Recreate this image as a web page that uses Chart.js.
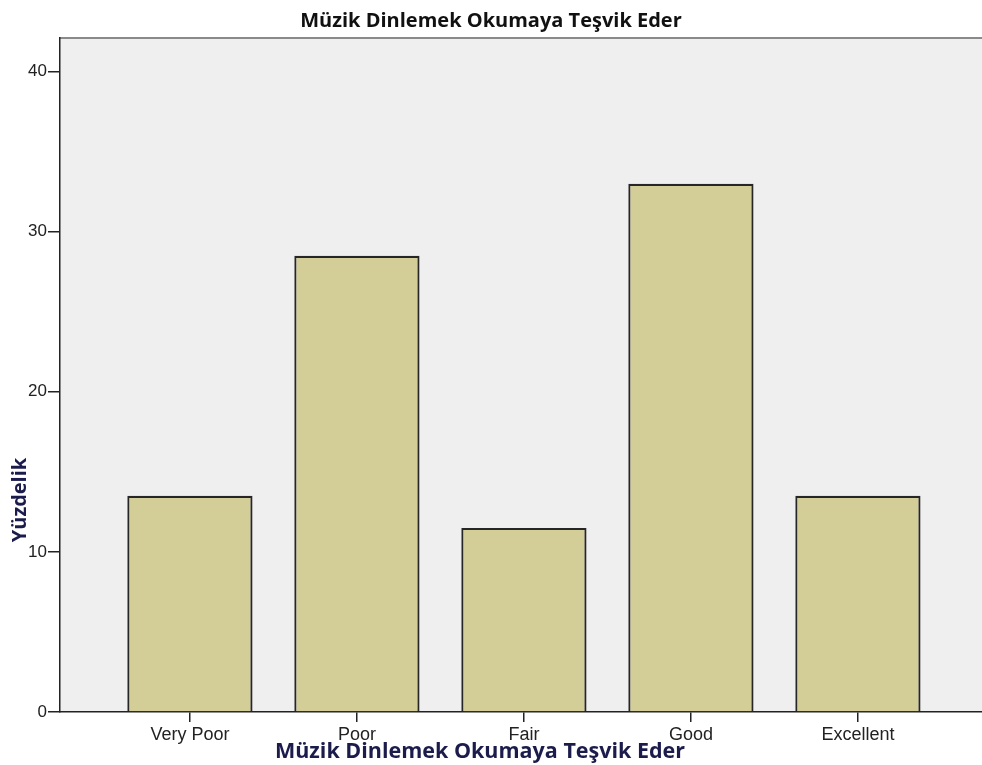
<!DOCTYPE html>
<html>
<head>
<meta charset="utf-8">
<script src="https://cdn.jsdelivr.net/npm/chart.js@4/dist/chart.umd.min.js"></script>
<style>
html,body{margin:0;padding:0;background:#fff;overflow:hidden;}
#wrap{width:982px;height:765px;position:relative;}
</style>
</head>
<body>
<div id="wrap"><canvas id="c" width="982" height="765"></canvas></div>
<script>
const chartTitle = "Müzik Dinlemek Okumaya Teşvik Eder";
const xAxisTitle = "Müzik Dinlemek Okumaya Teşvik Eder";
const yAxisTitle = "Yüzdelik";
const categories = ["Very Poor", "Poor", "Fair", "Good", "Excellent"];
const percentages = [13.5, 28.5, 11.5, 33.0, 13.5];
const yTicks = [0, 10, 20, 30, 40];

const points = categories.map((c, i) => ({x: i, y: percentages[i]}));

const bgPlugin = {
  id: 'bg',
  beforeDraw(chart) {
    const {ctx, chartArea: a} = chart;
    ctx.save();
    ctx.fillStyle = '#efefef';
    ctx.fillRect(a.left, a.top, a.right - a.left, a.bottom - a.top);
    ctx.strokeStyle = '#8a8a8a';
    ctx.lineWidth = 2;
    ctx.beginPath();
    ctx.moveTo(a.left, a.top);
    ctx.lineTo(a.right, a.top);
    ctx.stroke();
    ctx.restore();
  },
  afterDraw(chart) {
    const {ctx, chartArea: a} = chart;
    ctx.save();
    ctx.fillStyle = '#1c1c4c';
    ctx.font = 'bold 21.5px "Open Sans", Lato, sans-serif';
    ctx.textAlign = 'center';
    ctx.textBaseline = 'middle';
    ctx.fillText(xAxisTitle, 480, 752);
    ctx.font = 'bold 20px "Open Sans", Lato, sans-serif';
    ctx.translate(20, 500);
    ctx.rotate(-Math.PI / 2);
    ctx.fillText(yAxisTitle, 0, 0);
    ctx.restore();
  }
};

new Chart(document.getElementById('c'), {
  type: 'bar',
  data: {
    datasets: [{
      data: points,
      backgroundColor: '#d3ce98',
      borderColor: '#262626',
      borderWidth: 2.2,
      borderSkipped: 'bottom',
      categoryPercentage: 1.0,
      barPercentage: 0.75
    }]
  },
  options: {
    responsive: false,
    animation: false,
    layout: {padding: {left: 0, right: 0, top: 0, bottom: 0}},
    plugins: {
      legend: {display: false},
      tooltip: {enabled: false},
      title: {
        display: true,
        text: chartTitle,
        color: '#111',
        font: {family: '"Open Sans", Lato, sans-serif', size: 20, weight: 'bold'},
        padding: {top: 9, bottom: 5}
      }
    },
    scales: {
      x: {
        type: 'linear',
        offset: false,
        min: -0.778,
        max: 4.743,
        afterBuildTicks(scale) { scale.ticks = categories.map((c, i) => ({value: i})); },
        afterFit(scale) { scale.height = 53; },
        ticks: {
          callback: (v) => categories[v],
          color: '#222',
          font: {family: '"Liberation Sans", Arial, sans-serif', size: 18},
          padding: 2,
          maxRotation: 0,
          autoSkip: false
        },
        grid: {offset: false, drawOnChartArea: false, drawTicks: true, tickLength: 10, color: '#222', lineWidth: 1.5},
        border: {display: true, color: '#222', width: 1.5}
      },
      y: {
        min: 0,
        max: 42.1,
        afterBuildTicks(scale) { scale.ticks = yTicks.map(v => ({value: v})); },
        afterFit(scale) { scale.width = 60; },
        ticks: {
          color: '#222',
          font: {family: '"Liberation Sans", Arial, sans-serif', size: 17},
          padding: 1
        },
        grid: {drawOnChartArea: false, drawTicks: true, tickLength: 12, color: '#222', lineWidth: 1.5},
        border: {display: true, color: '#222', width: 1.5}
      }
    }
  },
  plugins: [bgPlugin]
});
</script>
</body>
</html>
